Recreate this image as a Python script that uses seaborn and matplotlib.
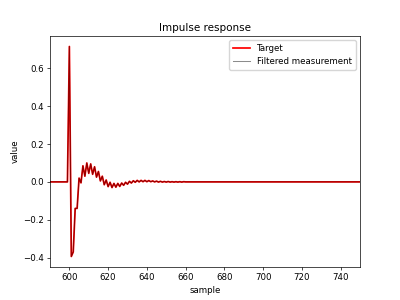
import numpy as np
import pandas as pd
import matplotlib
matplotlib.use('Agg')
import matplotlib.pyplot as plt
import seaborn as sns

# values, sample 599 .. 660 (zero elsewhere)
START = 599
response = [0.0, 0.715, -0.394, -0.37, -0.14, -0.14, 0.02, -0.005, 0.085, 0.03,
            0.10, 0.045, 0.095, 0.04, 0.08, 0.025, 0.055, 0.005, 0.03, -0.015,
            0.01, -0.025, -0.002, -0.03, -0.008, -0.028, -0.008, -0.024, -0.006, -0.018,
            -0.002, -0.012, 0.003, -0.006, 0.006, -0.002, 0.008, 0.0, 0.008, 0.001,
            0.008, 0.001, 0.007, 0.001, 0.005, 0.0, 0.004, -0.001, 0.003, -0.001,
            0.002, -0.001, 0.002, -0.001, 0.001, -0.001, 0.001, -0.001, 0.001, -0.001,
            0.001, 0.0]
filtered = list(response)  # filtered measurement lies on top of the target

samples = np.arange(590, 751)
target_vals = np.zeros(len(samples))
target_vals[START - 590:START - 590 + len(response)] = response
meas_vals = np.zeros(len(samples))
meas_vals[START - 590:START - 590 + len(filtered)] = filtered

df = pd.DataFrame({'sample': samples, 'target': target_vals, 'measured': meas_vals})

s = 0.625  # reference was rendered at 640x480 and shrunk
plt.rcParams.update({
    'font.size': 10 * s,
    'axes.linewidth': 0.8 * s,
    'xtick.major.size': 3.5 * s, 'ytick.major.size': 3.5 * s,
    'xtick.major.width': 0.8 * s, 'ytick.major.width': 0.8 * s,
    'xtick.major.pad': 3.5 * s, 'ytick.major.pad': 3.5 * s,
    'axes.titlepad': 6 * s, 'axes.labelpad': 4 * s,
    'legend.fontsize': 10 * s,
})

fig, ax = plt.subplots(figsize=(4, 3), dpi=100)
sns.lineplot(data=df, x='sample', y='target', color='red', linewidth=2 * s,
             label='Target', ax=ax)
sns.lineplot(data=df, x='sample', y='measured', color='black', alpha=0.45,
             linewidth=1.2 * s, label='Filtered measurement', ax=ax)
ax.set_xlim(590, 750)
ax.set_xlabel('sample')
ax.set_ylabel('value')
ax.set_title('Impulse response', fontsize=12 * s)
ax.legend(loc='upper right')
fig.savefig('out.png', dpi=100)
